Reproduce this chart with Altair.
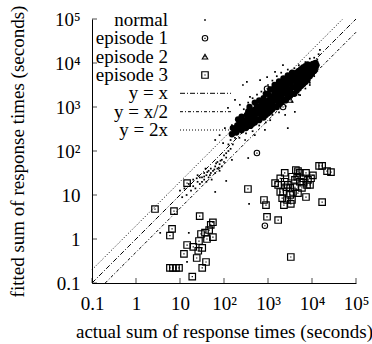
import altair as alt
import pandas as pd

FONT = "Liberation Serif"

# ---------------- data ----------------
# "normal" points, dense core (log10 seconds: actual, fitted)
normal_core = [
    (2.18, 2.38), (2.2, 2.52), (2.28, 2.42), (2.3, 2.58), (2.32, 2.72),
    (2.4, 2.47), (2.42, 2.62), (2.4, 2.78), (2.5, 2.52), (2.5, 2.67), (2.52, 2.82),
    (2.6, 2.57), (2.6, 2.72), (2.62, 2.87), (2.58, 3.0), (2.7, 2.65), (2.7, 2.8),
    (2.72, 2.95), (2.7, 3.1), (2.8, 2.7), (2.8, 2.85), (2.82, 3.0), (2.8, 3.15),
    (2.9, 2.76), (2.9, 2.9), (2.92, 3.05), (2.9, 3.2), (2.95, 3.3),
    (3.0, 2.86), (3.0, 3.0), (3.02, 3.15), (3.0, 3.3), (3.05, 3.4),
    (3.1, 2.95), (3.1, 3.1), (3.12, 3.25), (3.1, 3.4), (3.15, 3.5),
    (3.2, 3.0), (3.2, 3.15), (3.22, 3.3), (3.2, 3.45), (3.25, 3.58),
    (3.3, 3.1), (3.3, 3.25), (3.32, 3.4), (3.3, 3.55), (3.35, 3.65),
    (3.4, 3.15), (3.4, 3.3), (3.42, 3.45), (3.4, 3.6), (3.45, 3.72),
    (3.5, 3.25), (3.5, 3.4), (3.52, 3.55), (3.5, 3.68), (3.55, 3.78),
    (3.6, 3.3), (3.6, 3.45), (3.62, 3.6), (3.6, 3.74), (3.7, 3.42),
    (3.7, 3.56), (3.72, 3.7), (3.7, 3.82), (3.8, 3.52), (3.8, 3.66),
    (3.82, 3.8), (3.8, 3.9), (3.9, 3.62), (3.9, 3.76), (3.92, 3.88),
    (3.9, 3.97), (4.0, 3.76), (4.0, 3.88), (4.02, 3.98), (4.08, 3.9), (4.08, 4.0),
    (2.25, 2.47), (2.35, 2.52), (2.35, 2.65), (2.45, 2.55), (2.45, 2.7), (2.55, 2.6),
    (2.55, 2.75), (2.55, 2.9), (2.65, 2.62), (2.65, 2.77), (2.65, 2.92), (2.75, 2.72),
    (2.75, 2.88), (2.75, 3.02), (2.85, 2.8), (2.85, 2.95), (2.85, 3.1), (2.95, 2.82),
    (2.95, 2.97), (2.95, 3.12), (3.05, 2.9), (3.05, 3.05), (3.05, 3.2), (3.15, 3.02),
    (3.15, 3.17), (3.15, 3.32), (3.25, 3.07), (3.25, 3.22), (3.25, 3.37), (3.25, 3.5),
    (3.35, 3.17), (3.35, 3.32), (3.35, 3.47), (3.35, 3.58), (3.45, 3.22), (3.45, 3.37),
    (3.45, 3.52), (3.45, 3.64), (3.55, 3.3), (3.55, 3.45), (3.55, 3.6), (3.55, 3.7),
    (3.65, 3.37), (3.65, 3.52), (3.65, 3.66), (3.65, 3.78), (3.75, 3.48), (3.75, 3.62),
    (3.75, 3.76), (3.75, 3.86), (3.85, 3.57), (3.85, 3.71), (3.85, 3.84), (3.85, 3.93),
    (3.95, 3.7), (3.95, 3.82), (3.95, 3.93), (4.05, 3.82), (4.05, 3.94), (4.1, 3.95),
]
# "normal" points, scattered (log10 seconds: actual, fitted)
normal_sparse = [
    (1.0, 1.1), (1.05, 0.95), (1.1, 1.15), (1.15, 1.0), (1.2, 1.25), (1.25, 1.1),
    (1.3, 1.2), (1.3, 1.35), (1.35, 1.15), (1.4, 1.3), (1.4, 1.45), (1.45, 1.25),
    (1.5, 1.4), (1.5, 1.3), (1.55, 1.5), (1.55, 1.35), (1.6, 1.45), (1.6, 1.3),
    (1.65, 1.55), (1.65, 1.4), (1.7, 1.5), (1.7, 1.6), (1.72, 1.35), (1.75, 1.55),
    (1.8, 1.65), (1.8, 1.5), (1.85, 1.6), (1.85, 1.75), (1.9, 1.7), (1.9, 1.55),
    (1.95, 1.8), (1.95, 1.65), (2.0, 1.9), (2.0, 1.75), (2.05, 1.95), (2.05, 1.85),
    (2.1, 2.0), (2.1, 2.15), (2.15, 2.05), (2.15, 2.25), (2.2, 2.15), (2.25, 2.3),
    (1.45, 1.4), (1.55, 1.42), (1.62, 1.52), (1.68, 1.45), (1.78, 1.58), (1.82, 1.72),
    (1.88, 1.62), (1.92, 1.78), (1.58, 1.6), (1.38, 1.38),
    (0.55, 0.14), (1.2, 0.14), (1.16, -0.52), (2.57, 0.8), (1.8, 1.07), (2.05, 1.32),
    (2.45, 2.95), (2.55, 3.1), (2.65, 3.2), (2.75, 3.28), (2.85, 3.35), (3.0, 3.5),
    (3.1, 3.6), (3.2, 3.7), (3.3, 3.78), (3.45, 3.85), (3.6, 3.88), (3.7, 3.95),
    (3.85, 4.02), (3.95, 4.1), (4.05, 4.12), (4.12, 4.08), (4.15, 4.2), (4.18, 4.3),
    (2.35, 2.3), (2.5, 2.4), (2.65, 2.45), (2.8, 2.58), (2.95, 2.65), (3.1, 2.82),
    (3.25, 2.88), (3.4, 3.02), (3.55, 3.12), (3.7, 3.28), (3.85, 3.42), (3.95, 3.55),
    (4.05, 3.7), (4.12, 3.82), (4.15, 3.95),
    (2.52, 3.57), (2.59, 3.23), (2.98, 3.68), (3.5, 3.8), (3.61, 2.89), (3.45, 2.52),
    (2.25, 3.16), (2.09, 2.98), (2.43, 3.5), (2.82, 3.61), (3.16, 3.8), (3.34, 3.95),
    (2.36, 3.05), (2.32, 2.52), (1.98, 2.18), (2.18, 1.8), (2.55, 1.84), (3.05, 2.7),
    (2.93, 2.48), (2.7, 2.36), (2.48, 2.25), (3.39, 2.82), (3.73, 3.27), (3.95, 3.5),
    (2.18, 2.59), (2.02, 2.52), (1.9, 2.36), (1.8, 2.25),
]

# episode 1 (circles), seconds
ep1_x = [560, 850, 2200, 950]
ep1_y = [90, 2.0, 1000, 2600]
# episode 2 (triangles), seconds
ep2_x = [3200]
ep2_y = [1450]
# episode 3 (squares), seconds
ep3_x = [2.7, 7.3, 6.6, 5.9, 14.5, 12.3, 5.9, 6.9, 8.1, 9.5, 14.5,
         350, 810, 900, 950, 1700, 3300, 17000, 7300, 14500, 17000, 22000, 27000,
         28, 56, 50, 46, 56, 37, 30, 41, 27, 20, 32, 26, 24, 39, 32, 19,
         1450, 1900, 2400, 4800, 7300, 10500, 9000, 2200, 2700, 2100, 3500, 3700, 2800,
         5300, 6300, 4600, 3500, 7700, 4100, 5900, 2600, 1700, 3200, 4800, 1900, 2400,
         6300, 5300, 8100, 4100, 3200, 4300, 9500, 2300, 3300]
ep3_y = [4.8, 4.3, 1.7, 1.2, 0.73, 0.46, 0.22, 0.22, 0.22, 0.22, 18.7,
         13.7, 7.7, 5.9, 3.2, 2.7, 0.39, 6.9, 9, 46, 46, 35, 33,
         3.3, 2.4, 2.1, 1.6, 1.1, 1.4, 1.3, 1.0, 0.9, 0.66, 0.63, 0.54, 0.37, 0.30, 0.22, 0.14,
         18.7, 24, 32, 35, 32, 28, 17, 11.7, 7.7, 8.5, 7.7, 11.7, 17,
         20, 24, 26, 26, 17, 15, 14.5, 15, 17, 10, 11, 11.7, 20, 19,
         32, 22, 22, 14.5, 37, 24, 5.9, 6.3]

# reference lines: y = k * x
ref_names = ["y = x", "y = x/2", "y = 2x"]
ref_factors = [1.0, 0.5, 2.0]
ref_dashes = [[5, 2, 1, 2], [3, 2, 1, 2], [1, 2]]

tick_vals = [0.1, 1, 10, 100, 1000, 10000, 100000]
tick_labels = ["0.1", "1", "10", "10²", "10³", "10⁴", "10⁵"]

legend_labels = ["normal", "episode 1", "episode 2", "episode 3"] + ref_names

# ---------------- chart ----------------
W = H = 264
LO, HI = 0.1, 1e5

label_expr = "".join(
    f"datum.value < {v * 3} ? '{t}' : " for v, t in zip(tick_vals[:-1], tick_labels[:-1])
) + f"'{tick_labels[-1]}'"

common_axis = dict(
    values=tick_vals, labelExpr=label_expr, ticks=False, tickSize=0, grid=False,
    labelFlush=False, labelOverlap=False,
    domainColor="black", domainWidth=1, labelFont=FONT, labelFontSize=19,
    labelColor="black", titleFont=FONT, titleFontSize=19, titleFontWeight="normal",
    titleColor="black",
)
x_enc = alt.X("x:Q", scale=alt.Scale(type="log", domain=[LO, HI], nice=False),
              axis=alt.Axis(title="actual sum of response times (seconds)",
                            labelPadding=26, labelBaseline="alphabetic",
                            titleX=W / 2, titleY=54, titleAlign="center",
                            titleBaseline="alphabetic", **common_axis))
y_enc = alt.Y("y:Q", scale=alt.Scale(type="log", domain=[LO, HI], nice=False),
              axis=alt.Axis(title="fitted sum of response times (seconds)",
                            labelPadding=12, titleX=-69, titleY=H / 2, titleAngle=270,
                            titleAlign="center", titleBaseline="alphabetic",
                            **common_axis))

core_df = pd.DataFrame({"x": [10 ** a for a, b in normal_core],
                        "y": [10 ** b for a, b in normal_core]})
sparse_df = pd.DataFrame({"x": [10 ** a for a, b in normal_sparse],
                          "y": [10 ** b for a, b in normal_sparse]})
ep1_df = pd.DataFrame({"x": ep1_x, "y": ep1_y})
ep2_df = pd.DataFrame({"x": ep2_x, "y": ep2_y})
ep3_df = pd.DataFrame({"x": ep3_x, "y": ep3_y})

layers = []
# reference lines
for name, k, dash in zip(ref_names, ref_factors, ref_dashes):
    x0, x1 = max(LO, LO / k), min(HI, HI / k)
    df = pd.DataFrame({"x": [x0, x1], "y": [k * x0, k * x1]})
    layers.append(alt.Chart(df).mark_line(color="black", strokeWidth=1, strokeDash=dash)
                  .encode(x=x_enc, y=y_enc))

layers.append(alt.Chart(core_df).mark_circle(color="black", size=40, opacity=1)
              .encode(x=x_enc, y=y_enc))
layers.append(alt.Chart(sparse_df).mark_square(color="black", size=3, opacity=1)
              .encode(x=x_enc, y=y_enc))

SYM = "#000000"
layers.append(alt.Chart(ep3_df).mark_point(shape="square", filled=False, color=SYM,
                                            size=42, strokeWidth=1.2, opacity=1)
              .encode(x=x_enc, y=y_enc))
layers.append(alt.Chart(ep1_df).mark_point(shape="circle", filled=False, color=SYM,
                                            size=30, strokeWidth=1.1, opacity=1)
              .encode(x=x_enc, y=y_enc))
layers.append(alt.Chart(ep2_df).mark_point(shape="triangle-up", filled=False, color=SYM,
                                            size=30, strokeWidth=1.1, opacity=1)
              .encode(x=x_enc, y=y_enc))
for df in (ep3_df, ep1_df, ep2_df):
    layers.append(alt.Chart(df).mark_square(color="black", size=1.5, opacity=1)
                  .encode(x=x_enc, y=y_enc))

# inward ticks
layers.append(alt.Chart(pd.DataFrame({"x": tick_vals}))
              .mark_tick(orient="vertical", size=5, thickness=1, color="black")
              .encode(x=x_enc, y=alt.value(H - 2.5)))
layers.append(alt.Chart(pd.DataFrame({"y": tick_vals}))
              .mark_tick(orient="horizontal", size=5, thickness=1, color="black")
              .encode(y=y_enc, x=alt.value(2.5)))

# legend (inside, top-left)
one = alt.Data(values=[{"a": 1}])
rows = [1, 19.3, 37.7, 56, 74.3, 92.7, 111]
TX, SX, LX0, LX1 = 76, 113, 88, 139
for lab, ry in zip(legend_labels, rows):
    layers.append(alt.Chart(one).mark_text(text=lab, align="right", baseline="middle",
                                           font=FONT, fontSize=19, color="black")
                  .encode(x=alt.value(TX), y=alt.value(ry)))
layers.append(alt.Chart(one).mark_square(color="black", size=3, opacity=1)
              .encode(x=alt.value(SX), y=alt.value(rows[0])))
for shape, ry, sz, sw in (("circle", rows[1], 30, 1.1), ("triangle-up", rows[2], 30, 1.1),
                          ("square", rows[3], 42, 1.2)):
    layers.append(alt.Chart(one).mark_point(shape=shape, filled=False, color=SYM, size=sz,
                                            strokeWidth=sw, opacity=1)
                  .encode(x=alt.value(SX), y=alt.value(ry)))
    layers.append(alt.Chart(one).mark_square(color="black", size=1.5, opacity=1)
                  .encode(x=alt.value(SX), y=alt.value(ry)))
for dash, ry in zip(ref_dashes, rows[4:]):
    layers.append(alt.Chart(one).mark_rule(color="black", strokeWidth=1, strokeDash=dash)
                  .encode(x=alt.value(LX0), x2=alt.value(LX1), y=alt.value(ry)))

chart = (
    alt.layer(*layers)
    .properties(width=W, height=H, autosize=alt.AutoSizeParams(type="none"),
                padding={"left": 92, "top": 19, "right": 16, "bottom": 61},
                background="white")
    .configure_view(stroke=None)
)

chart.save("out.html", embed_options={"renderer": "svg", "actions": False})
